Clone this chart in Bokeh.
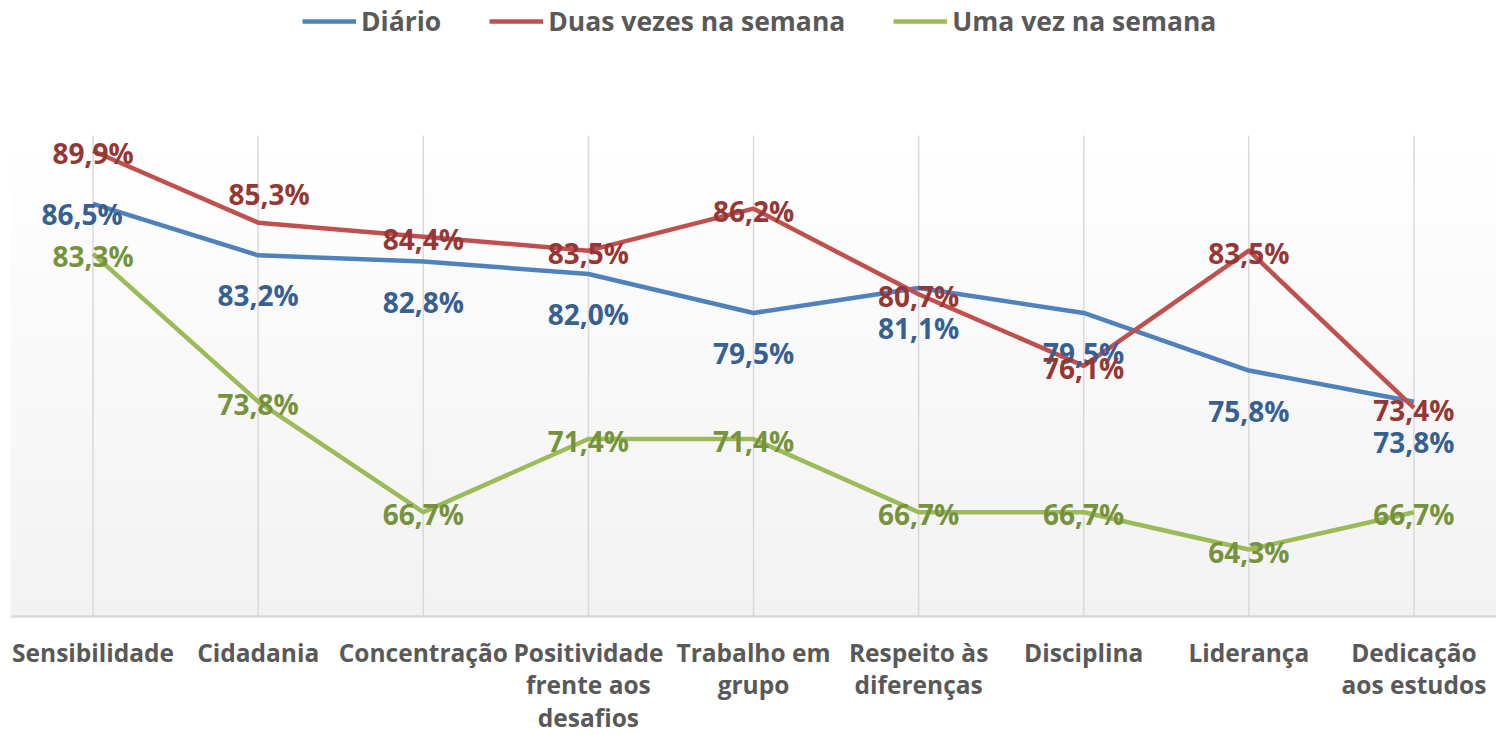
import numpy as np
from bokeh.plotting import figure
from bokeh.models import (ColumnDataSource, FactorRange, Range1d, Legend, LegendItem)
from bokeh.core.properties import value
from bokeh.embed import file_html
from bokeh.resources import INLINE

categories = ["Sensibilidade", "Cidadania", "Concentração", "Positividade\nfrente aos\ndesafios",
              "Trabalho em\ngrupo", "Respeito às\ndiferenças", "Disciplina", "Liderança",
              "Dedicação\naos estudos"]
series_names = ["Diário", "Duas vezes na semana", "Uma vez na semana"]
diario = [86.5, 83.2, 82.8, 82.0, 79.5, 81.1, 79.5, 75.8, 73.8]
duas_vezes = [89.9, 85.3, 84.4, 83.5, 86.2, 80.7, 76.1, 83.5, 73.4]
uma_vez = [83.3, 73.8, 66.7, 71.4, 71.4, 66.7, 66.7, 64.3, 66.7]

Y_MIN = 60.0        # axis minimum
PLOT_TOP = 90.9     # top of the shaded plot area
Y_MAX = 99.57       # room above for the legend

# label placement (screen px offsets), style only
diario_dx = [-11, 0, 0, 0, 0, 0, 0, 0, 0]
diario_dy = [10, 40, 40, 40, 40, 40, 40, 40, 40]
duas_dx = [0, 11, 0, 0, 0, 0, 0, 0, 0]
duas_dy = [2, -29, 2, 2, 2, 2, 2, 2, 2]
uma_dx = [0] * 9
uma_dy = [2] * 9

line_colors = ["#4F81BD", "#C0504D", "#9BBB59"]
label_colors = ["#376092", "#953735", "#76923C"]

FONT = "Open Sans"
FRAME_H = 616

p = figure(frame_width=1486, frame_height=FRAME_H, x_range=FactorRange(*categories),
           y_range=Range1d(Y_MIN, Y_MAX), output_backend="svg", toolbar_location=None,
           y_axis_location=None, min_border_left=10, min_border_right=0,
           min_border_top=0, min_border_bottom=0)
p.outline_line_color = None
p.background_fill_color = "white"
p.border_fill_color = "white"

# gradient plot-area background
N = 120
img = np.zeros((N, 1), dtype=np.uint32)
view = img.view(dtype=np.uint8).reshape((N, 1, 4))
for i in range(N):
    c = int(round(242 + 13 * i / (N - 1)))
    view[i, 0, :] = [c, c, c, 255]
p.image_rgba(image=[img], x=0, y=Y_MIN, dw=len(categories), dh=PLOT_TOP - Y_MIN)

# vertical gridlines limited to the plot area
p.xgrid.visible = False
p.ygrid.visible = False
p.segment(x0=categories, y0=[Y_MIN] * len(categories), x1=categories,
          y1=[PLOT_TOP] * len(categories), line_color="#D9D9D9", line_width=1.5)

ax = p.xaxis[0]
ax.axis_line_color = "#D9D9D9"
ax.axis_line_width = 2.5
ax.major_tick_line_color = None
ax.minor_tick_line_color = None
ax.major_tick_out = 0
ax.major_tick_in = 0
ax.minor_tick_out = 0
ax.major_label_text_font = FONT
ax.major_label_text_font_style = "bold"
ax.major_label_text_font_size = "24.5px"
ax.major_label_text_color = "#595959"
ax.major_label_text_line_height = 0.99
ax.major_label_standoff = 19
ax.major_label_orientation = "horizontal"

all_vals = [diario, duas_vezes, uma_vez]
all_dx = [diario_dx, duas_dx, uma_dx]
all_dy = [diario_dy, duas_dy, uma_dy]
renderers = []
for vals, lc in zip(all_vals, line_colors):
    src = ColumnDataSource(dict(x=categories, y=vals))
    r = p.line("x", "y", source=src, line_color=lc, line_width=4.5, line_join="round")
    renderers.append(r)

for vals, dxs, dys, tc in zip(all_vals, all_dx, all_dy, label_colors):
    src = ColumnDataSource(dict(x=categories, y=vals,
                                t=[("%.1f%%" % v).replace(".", ",") for v in vals],
                                dx=dxs, dy=dys))
    p.text("x", "y", text="t", source=src, x_offset="dx", y_offset="dy",
           text_align="center", text_baseline="middle",
           text_font=value(FONT), text_font_style="bold", text_font_size="28px",
           text_color=tc)

legend = Legend(items=[LegendItem(label=n, renderers=[r]) for n, r in zip(series_names, renderers)],
                orientation="horizontal", location=(292, FRAME_H - 39))
legend.label_text_font = FONT
legend.label_text_font_style = "bold"
legend.label_text_font_size = "26.5px"
legend.label_text_color = "#595959"
legend.glyph_width = 54
legend.label_standoff = 5
legend.spacing = 48
legend.padding = 0
legend.margin = 0
legend.border_line_color = None
legend.background_fill_alpha = 0
p.add_layout(legend, "center")

open("out.html", "w").write(file_html(p, INLINE))
